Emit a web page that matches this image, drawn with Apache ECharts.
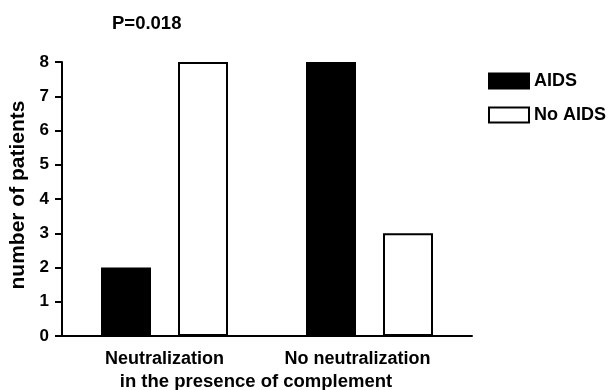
<!DOCTYPE html>
<html>
<head>
<meta charset="utf-8">
<script src="https://cdn.jsdelivr.net/npm/echarts@6/dist/echarts.min.js"></script>
<style>
html,body{margin:0;padding:0;background:#fff;}
#chart{width:611px;height:390px;}
</style>
</head>
<body>
<div id="chart"></div>
<script>
var categories = ['Neutralization', 'No neutralization'];
var aidsValues = [2, 8];
var noAidsValues = [8, 3];
var seriesNames = ['AIDS', 'No AIDS'];
var titleText = 'P=0.018';
var yAxisName = 'number of patients';
var xAxisName = 'in the presence of complement';

var FONT = '"Liberation Sans", Arial, Helvetica, sans-serif';
var chart = echarts.init(document.getElementById('chart'), null, {renderer: 'canvas'});
chart.setOption({
  animation: false,
  backgroundColor: '#fff',
  title: {
    text: titleText,
    left: 107,
    top: 9,
    textStyle: {fontFamily: FONT, fontWeight: 'bold', fontSize: 18.5, color: '#000'}
  },
  legend: {
    orient: 'vertical',
    left: 488,
    top: 72,
    padding: 0,
    itemWidth: 40,
    itemHeight: 15,
    itemGap: 16,
    textStyle: {fontFamily: FONT, fontWeight: 'bold', fontSize: 18, color: '#000'},
    data: [
      {name: seriesNames[0], icon: 'rect', itemStyle: {color: '#000', borderColor: '#000', borderWidth: 2}},
      {name: seriesNames[1], icon: 'rect', itemStyle: {color: '#fff', borderColor: '#000', borderWidth: 2}}
    ]
  },
  grid: {left: 62, right: 139, top: 62, bottom: 54, containLabel: false, outerBoundsMode: 'none'},
  xAxis: {
    type: 'category',
    data: [
      {value: categories[0]},
      {value: categories[1], textStyle: {padding: [0, 24, 0, 0]}}
    ],
    name: xAxisName,
    nameLocation: 'middle',
    nameGap: 32,
    nameTextStyle: {fontFamily: FONT, fontWeight: 'bold', fontSize: 18.5, color: '#000', padding: [0, 22, 0, 0]},
    axisLine: {show: true, lineStyle: {color: '#000', width: 2}},
    axisTick: {show: false},
    axisLabel: {fontFamily: FONT, fontWeight: 'bold', fontSize: 18, color: '#000', margin: 14, interval: 0}
  },
  yAxis: {
    type: 'value',
    min: 0,
    max: 8,
    interval: 1,
    name: yAxisName,
    nameLocation: 'middle',
    nameGap: 32,
    nameTextStyle: {fontFamily: FONT, fontWeight: 'bold', fontSize: 21, color: '#000', padding: [0, 0, 0, 8]},
    axisLine: {show: true, lineStyle: {color: '#000', width: 2}},
    axisTick: {show: true, inside: false, length: 7, lineStyle: {color: '#000', width: 2}},
    axisLabel: {fontFamily: FONT, fontWeight: 'bold', fontSize: 17, color: '#000', margin: 13},
    splitLine: {show: false}
  },
  series: [
    {
      name: seriesNames[0],
      type: 'bar',
      data: aidsValues,
      barWidth: 50,
      barGap: '54%',
      itemStyle: {color: '#000', borderColor: '#000', borderWidth: 2}
    },
    {
      name: seriesNames[1],
      type: 'bar',
      data: noAidsValues,
      barWidth: 50,
      barGap: '54%',
      itemStyle: {color: '#fff', borderColor: '#000', borderWidth: 2}
    }
  ]
});
</script>
</body>
</html>
